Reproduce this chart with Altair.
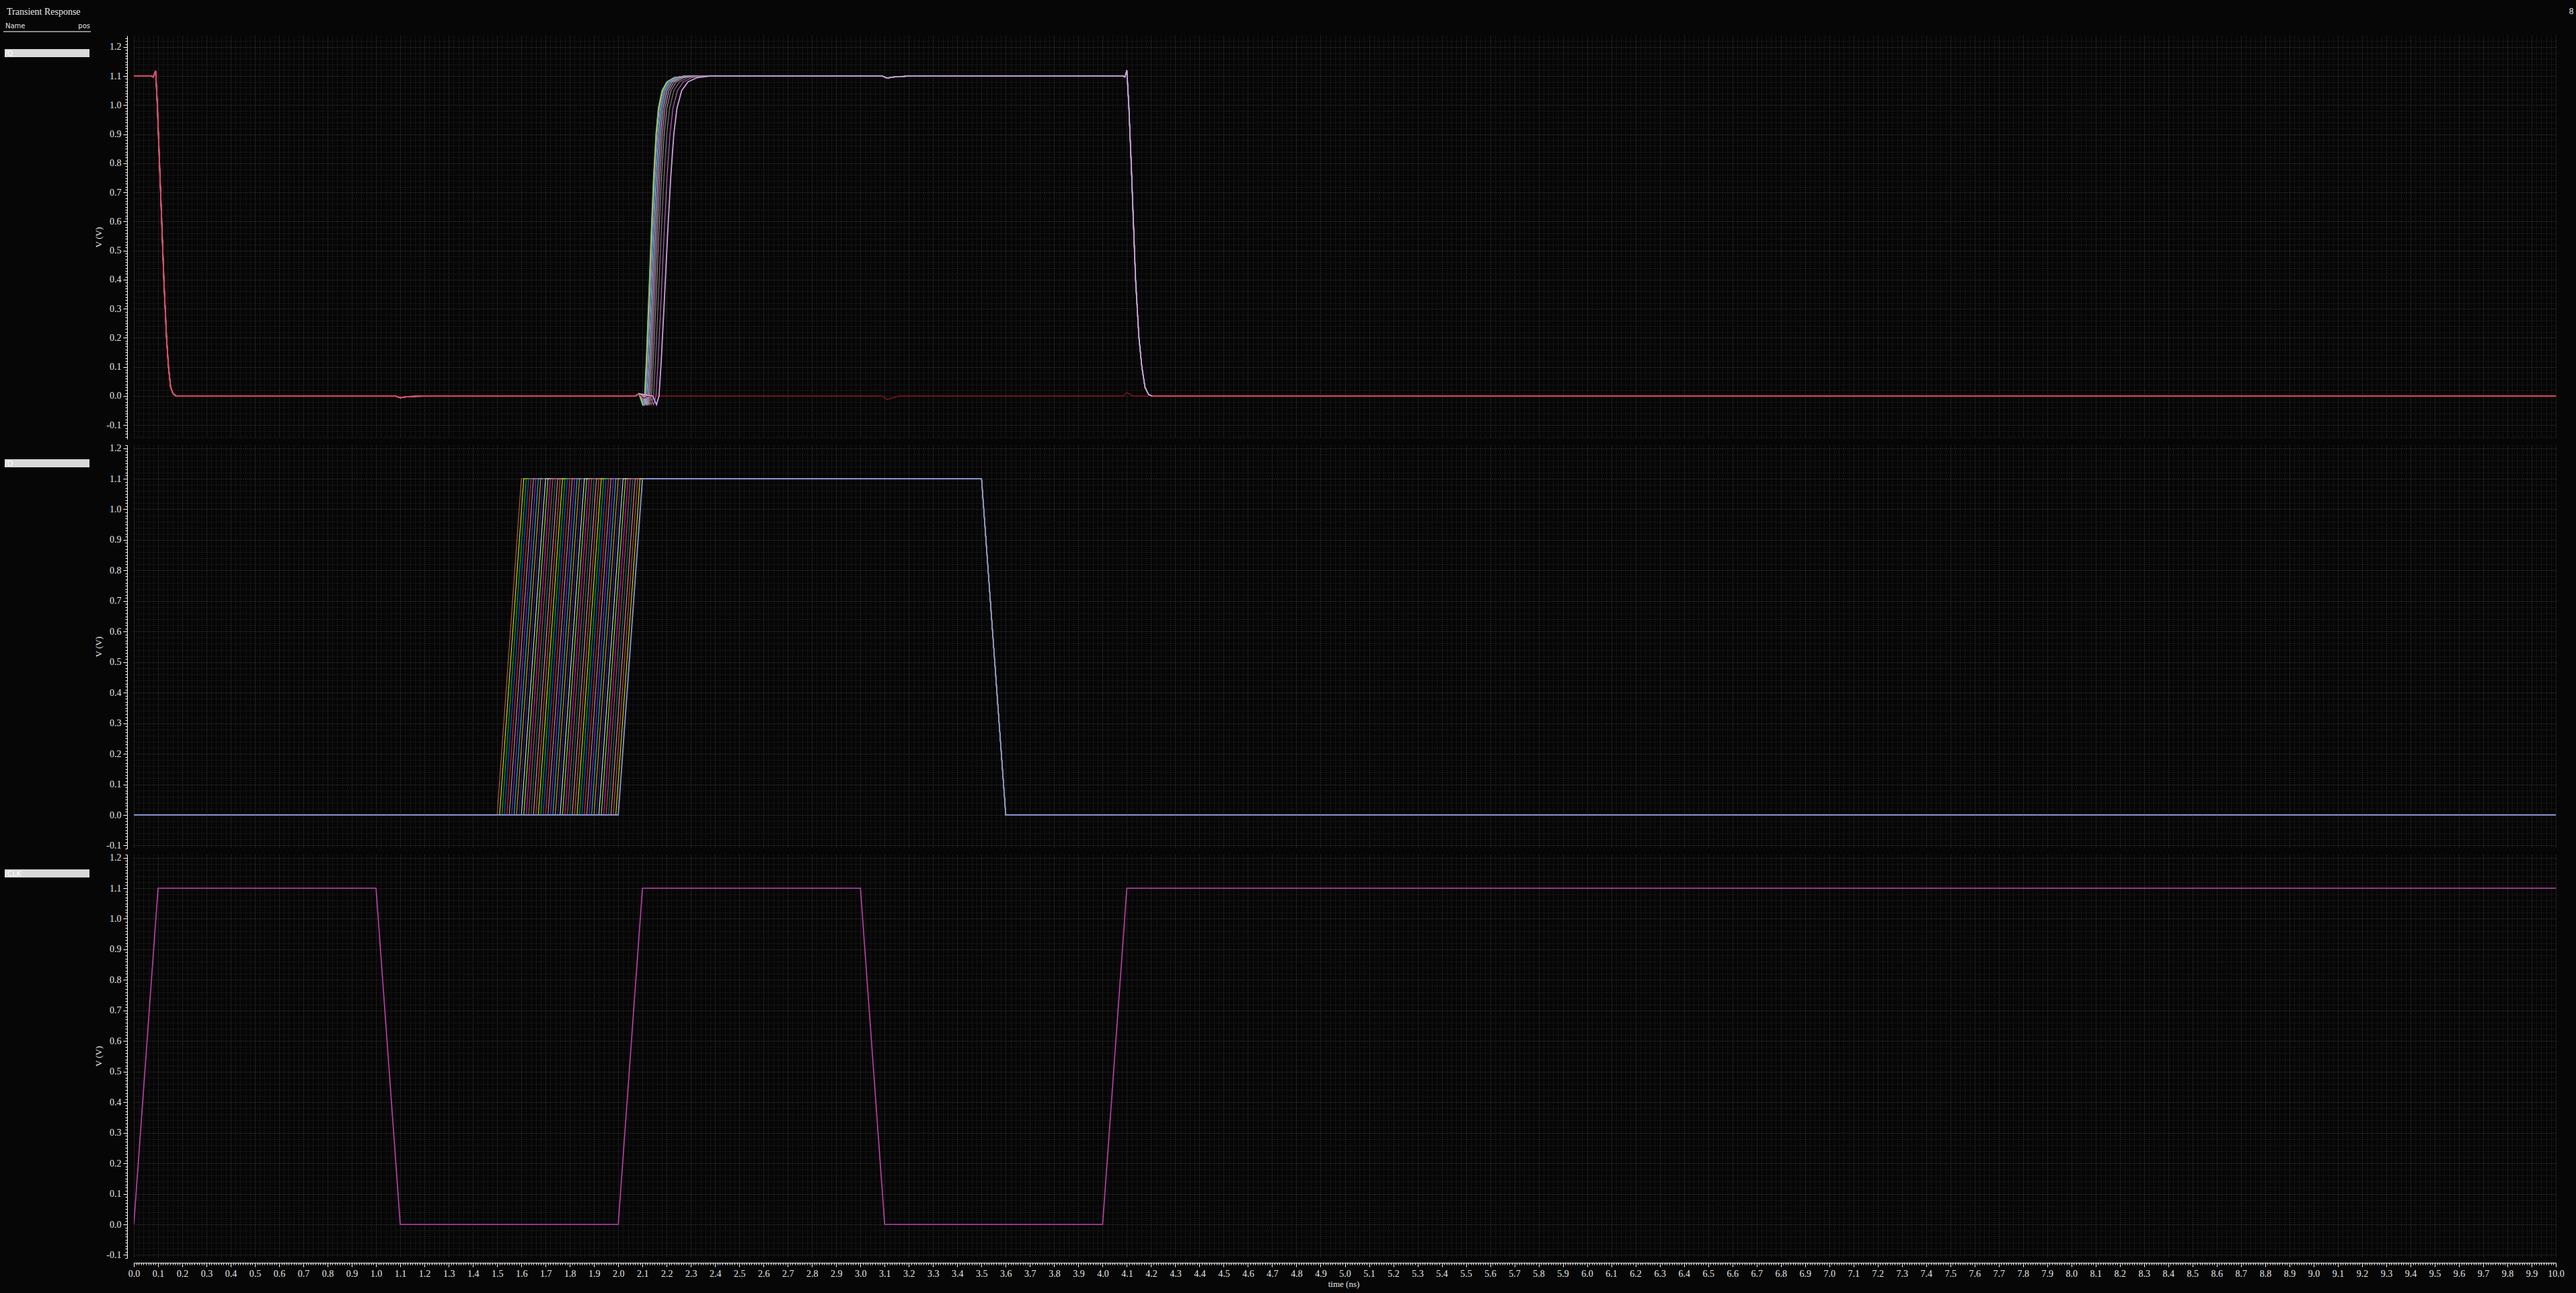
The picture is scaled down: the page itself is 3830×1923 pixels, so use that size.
import altair as alt
import pandas as pd

# ---------------- data ----------------
# /CLK
clk_t = [0.0, 0.1, 1.0, 1.1, 2.0, 2.1, 3.0, 3.1, 4.0, 4.1, 10.0]
clk_v = [0.0, 1.1, 1.1, 0.0, 0.0, 1.1, 1.1, 0.0, 0.0, 1.1, 1.1]

# /D  (swept rising edge start, ns)
d_rise_start = [1.50, 1.51, 1.52, 1.53, 1.54, 1.55, 1.56, 1.57, 1.58, 1.59,
                1.60, 1.61, 1.62, 1.63, 1.64, 1.65, 1.66, 1.67, 1.68, 1.69,
                1.70, 1.71, 1.72, 1.73, 1.74, 1.75, 1.76, 1.77, 1.78, 1.79,
                1.80, 1.81, 1.82, 1.83, 1.84, 1.85, 1.86, 1.87, 1.88, 1.89,
                1.90, 1.91, 1.92, 1.93, 1.94, 1.95, 1.96, 1.97, 1.98, 1.99, 2.00]
d_rise_time = 0.1
d_high = 1.1
d_fall_t = [3.5, 3.6]
d_colors = ["#c06040", "#e0e000", "#00c000", "#0060ff", "#ff2020", "#a0a0a0",
            "#a020f0", "#00d0d0", "#ff9000", "#2030c0", "#e0e0e0", "#80ff00",
            "#ff00ff", "#b06030", "#008080", "#ff80a0"]
d_last_color = "#8796d2"

# /Q  common initial fall
q_init_t = [0.0, 0.072, 0.080, 0.090, 0.097, 0.106, 0.115, 0.124, 0.135, 0.143, 0.152, 0.162, 0.175]
q_init_v = [1.1, 1.1, 1.097, 1.118, 1.0, 0.8, 0.6, 0.4, 0.2, 0.1, 0.03, 0.008, 0.0]
q_glitch_t = [0.20, 1.08, 1.10, 1.13, 1.20, 2.07, 2.085]
q_glitch_v = [0.0, 0.0, -0.006, -0.002, 0.0, 0.0, 0.008]
# rising edge shape (relative to its start)
q_rise_dt = [-0.012, 0.0, 0.008, 0.015, 0.025, 0.035, 0.045, 0.055, 0.065, 0.08, 0.10, 0.13, 0.17]
q_rise_v = [0.0, -0.03, 0.0, 0.12, 0.33, 0.55, 0.75, 0.90, 0.99, 1.05, 1.08, 1.095, 1.1]
q_start = [2.100, 2.101, 2.103, 2.105, 2.107, 2.110, 2.113, 2.117, 2.122, 2.128, 2.136, 2.146, 2.158]
q_stretch = [1.0, 1.0, 1.0, 1.0, 1.01, 1.02, 1.04, 1.06, 1.09, 1.12, 1.17, 1.23, 1.30]
q_colors = ["#52b8e8", "#58c858", "#d0d050", "#d89048", "#5870e8", "#48c8b0", "#9870d8",
            "#b0b0b0", "#d880b8", "#909090", "#787878", "#b860c0", "#c9a3d8"]
q_plateau_t = [3.09, 3.11, 3.14, 3.20, 4.085, 4.092, 4.100]
q_plateau_v = [1.1, 1.093, 1.097, 1.1, 1.1, 1.097, 1.12]
q_fall_t = [4.108, 4.118, 4.127, 4.136, 4.150, 4.162, 4.175, 4.190, 4.205, 10.0]
q_fall_v = [1.0, 0.8, 0.6, 0.4, 0.2, 0.1, 0.03, 0.005, 0.0, 0.0]
# traces that miss the clock edge
q_fail_t = [2.095, 2.105, 2.125, 3.09, 3.11, 3.16, 4.085, 4.10, 4.125, 10.0]
q_fail_v = [0.0, -0.008, 0.0, 0.0, -0.012, 0.0, 0.0, 0.012, 0.0, 0.0]
q_tail_t = [4.205, 10.0]
q_tail_v = [0.0, 0.0]

# ---------------- tables ----------------
def rows_for(tid, ts, vs, col):
    return [{"id": tid, "i": i, "t": t, "v": v, "c": col} for i, (t, v) in enumerate(zip(ts, vs))]

clk_df = pd.DataFrame(rows_for("clk", clk_t, clk_v, "#c040b0"))

d_rows, d_last = [], []
for k, s in enumerate(d_rise_start):
    ts = [0.0, s, s + d_rise_time, d_fall_t[0], d_fall_t[1], 10.0]
    vs = [0.0, 0.0, d_high, d_high, 0.0, 0.0]
    if k == len(d_rise_start) - 1:
        d_last += rows_for(k, ts, vs, d_last_color)
    else:
        d_rows += rows_for(k, ts, vs, d_colors[k % len(d_colors)])
d_df = pd.DataFrame(d_rows)
d_last_df = pd.DataFrame(d_last)

q_rows, q_top = [], []
for k, (s, st, col) in enumerate(zip(q_start, q_stretch, q_colors)):
    ts = q_init_t + q_glitch_t + [s + dt * st for dt in q_rise_dt] + q_plateau_t + q_fall_t
    vs = q_init_v + q_glitch_v + q_rise_v + q_plateau_v + q_fall_v
    if k == len(q_start) - 1:
        q_top += rows_for(k, ts, vs, col)
    else:
        q_rows += rows_for(k, ts, vs, col)
q_df = pd.DataFrame(q_rows)
q_top_df = pd.DataFrame(q_top)
q_fail_df = pd.DataFrame(rows_for("fail", q_init_t + q_glitch_t + q_fail_t,
                                  q_init_v + q_glitch_v + q_fail_v, "#8a1616"))
q_red_df = pd.DataFrame(rows_for("redA", q_init_t + q_glitch_t, q_init_v + q_glitch_v, "#e2445c")
                        + rows_for("redB", q_tail_t, q_tail_v, "#e2445c"))

# ---------------- styling ----------------
BG = "#060606"
W, H = 3601, 600
MAJ = "abs(datum.value*10 - round(datum.value*10)) < 0.0001"
EVEN = "abs(datum.value*50 - round(datum.value*50)) < 0.0001"
LBL = f"{MAJ} ? replace(format(datum.value, '.1f'), '\u2212', '-') : ''"
SERIF = "Liberation Serif"
SANS = "DejaVu Sans"

x_vals = [round(i / 100, 2) for i in range(0, 1001)]


def x_axis(show):
    return alt.Axis(
        values=x_vals, title=None, orient="bottom", offset=7,
        labels=show, ticks=show, domain=show,
        labelExpr=LBL, labelOverlap=False, labelFlush=False, labelBound=False,
        labelColor="#e6e6e6", labelFont=SERIF, labelFontSize=14, labelPadding=3,
        tickSize={"condition": {"test": MAJ, "value": 6}, "value": 3},
        tickColor="#ffffff", tickWidth=1, domainColor="#ffffff", domainWidth=1,
        grid=True, gridDash=[1, 2], gridWidth=1,
        gridColor={"condition": {"test": MAJ, "value": "#4f4f4f"}, "value": "#2c2c2c"},
        gridOpacity={"condition": {"test": EVEN, "value": 1}, "value": 0},
    )


def y_axis(vals):
    return alt.Axis(
        values=vals, title=None, orient="left", offset=10,
        labelExpr=LBL, labelOverlap=False, labelFlush=False, labelBound=False,
        labelColor="#e6e6e6", labelFont=SERIF, labelFontSize=14, labelPadding=3,
        tickSize={"condition": {"test": MAJ, "value": 6}, "value": 3},
        tickColor="#ffffff", tickWidth=1, domainColor="#ffffff", domainWidth=1,
        grid=True, gridDash=[1, 2], gridWidth=1,
        gridColor={"condition": {"test": MAJ, "value": "#4f4f4f"}, "value": "#2c2c2c"},
        gridOpacity={"condition": {"test": EVEN, "value": 1}, "value": 0},
    )


one = pd.DataFrame({"a": [0]})


def txt(s, x, y, size=11, font=SANS, color="#ffffff", align="left", baseline="middle", angle=0):
    kw = dict(align=align, baseline=baseline, font=font, fontSize=size, color=color)
    if angle:
        kw["angle"] = angle
    return alt.Chart(one).mark_text(**kw).encode(
        x=alt.value(x), y=alt.value(y), text=alt.value(s))


def box(x1, x2, y1, y2, color):
    return alt.Chart(one).mark_rect(color=color).encode(
        x=alt.value(x1), x2=alt.value(x2), y=alt.value(y1), y2=alt.value(y2))


def panel(layers_data, ydom, yvals, show_x, name, bar_y, extra=None):
    xs = alt.Scale(domain=[0, 10], nice=False, zero=False)
    ys = alt.Scale(domain=ydom, nice=False, zero=False)
    xa, ya = x_axis(show_x), y_axis(yvals)
    layers = []
    for df, width in layers_data:
        layers.append(
            alt.Chart(df).mark_line(strokeWidth=width, clip=True).encode(
                x=alt.X("t:Q", scale=xs, axis=xa),
                y=alt.Y("v:Q", scale=ys, axis=ya),
                detail="id:N",
                color=alt.Color("c:N", scale=None),
                order="i:Q",
            )
        )
    layers.append(box(-192, -66, bar_y, bar_y + 12, "#d9d9d9"))
    layers.append(txt(name, -192, bar_y + 6.5, size=11, color="#ffffff"))
    layers.append(txt("V (V)", -52, H / 2, size=13, font=SERIF, color="#e6e6e6",
                      align="center", angle=270))
    if extra:
        layers += extra
    return alt.layer(*layers).properties(width=W, height=H)


y1_vals = [round(i / 100, 2) for i in range(-14, 124)]
y2_vals = [round(i / 100, 2) for i in range(-11, 122)]

top_extra = [
    box(-199, -198, -53, -52, BG),
    txt("Transient Response", -189, -31, size=14, font=SERIF, color="#e8e8e8",
        baseline="alphabetic"),
    txt("Name", -191, -14, size=10, color="#e0e0e0"),
    txt("pos", -65, -14, size=10, color="#e0e0e0", align="right"),
    alt.Chart(one).mark_rule(color="#8a8a8a", strokeWidth=2).encode(
        x=alt.value(-194), x2=alt.value(-64), y=alt.value(-6)),
    txt("8", 3624, -36, size=12, color="#d0d0d0", align="center"),
]
bottom_extra = [
    txt("time (ns)", 1799, 639, size=13, font=SERIF, color="#e6e6e6", align="center"),
    box(3630, 3631, 651, 652, BG),
]

p1 = panel([(q_df, 1.2), (q_fail_df, 1.4), (q_top_df, 1.8), (q_red_df, 1.8)],
           [-0.148, 1.239], y1_vals, False, "/Q", 20, top_extra)
p2 = panel([(d_df, 1.1), (d_last_df, 1.8)], [-0.11, 1.21], y2_vals, False, "/D", 21)
p3 = panel([(clk_df, 1.6)], [-0.11, 1.21], y2_vals, True, "/CLK", 22, bottom_extra)

chart = alt.vconcat(p1, p2, p3, spacing=9, bounds="flush").properties(
    padding={"left": 0, "top": 0, "right": 0, "bottom": 0},
    background=BG,
).configure_view(stroke=None)

chart.save("out.html", embed_options={"renderer": "svg", "actions": False})
